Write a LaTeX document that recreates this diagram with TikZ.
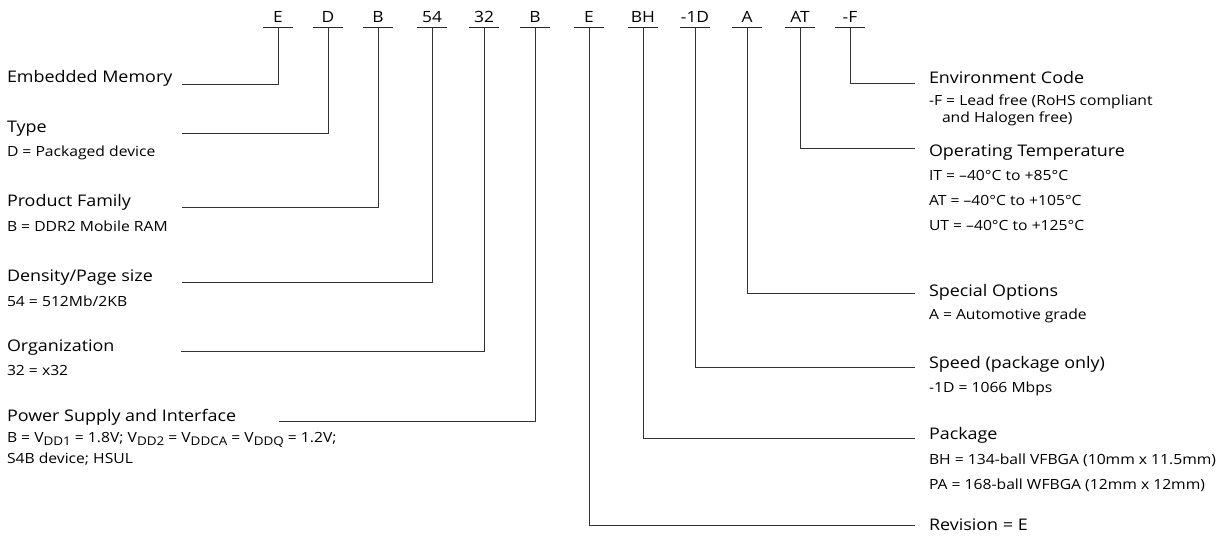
\documentclass[tikz,border=0pt]{standalone}
\usepackage{fontspec}
\setmainfont{Open Sans}[FakeStretch=1.12]
\begin{document}
\begin{tikzpicture}[x=1pt,y=-1pt,
  every node/.style={inner sep=0pt,outer sep=0pt,text=black},
  code/.style={anchor=base,font=\fontsize{15.5}{18}\selectfont},
  ttl/.style={anchor=base west,font=\fontsize{16}{19}\selectfont},
  sub/.style={anchor=base west,font=\fontsize{14}{16}\selectfont},
  conn/.style={draw=black!80,line width=0.85pt},
  tick/.style={draw=black!85,line width=0.85pt}]
\newcommand\lowsub[1]{\raisebox{-0.25em}{\fontsize{12}{12}\selectfont #1}}
\useasboundingbox (0,0) rectangle (1225,544);
% top code letters
\foreach \n/\x/\t in {c1/278/E,c2/328/D,c3/378/B,c4/432/54,c5/484/32,c6/535/B,c7/589/E,c8/643/BH,c9/695/-1D,c10/747/A,c11/800/AT,c12/850/-F}{
  \node[code] (\n) at (\x,22) {\t};
  \coordinate (t\n) at (\x,27);
  \draw[tick] ([xshift=-15pt]t\n) -- ([xshift=15pt]t\n);
}
% left texts
\node[ttl] (embT) at (7,82.5) {Embedded Memory};
\node[ttl] (typT) at (7,132.7) {Type};
\node[sub] (typS) at (7,156.7) {D = Packaged device};
\node[ttl] (famT) at (7,206.7) {Product Family};
\node[sub] (famS) at (7,231) {B = DDR2 Mobile RAM};
\node[ttl] (denT) at (7,281.5) {Density/Page size};
\node[sub] (denS) at (7,306) {54 = 512Mb/2KB};
\node[ttl] (orgT) at (7,351) {Organization};
\node[sub] (orgS) at (7,375.7) {32 = x32};
\node[ttl] (pwrT) at (7,421.5) {Power Supply and Interface};
\node[sub] (pwrS) at (7,442) {B = V\lowsub{DD1} = 1.8V; V\lowsub{DD2} = V\lowsub{DDCA} = V\lowsub{DDQ} = 1.2V;};
\node[sub] (pwrS2) at (7,463) {S4B device; HSUL};
% right texts
\node[ttl] (envT) at (929,83) {Environment Code};
\node[sub] (envS) at (929,105) {-F = Lead free (RoHS compliant};
\node[sub] (envS2) at (942,122) {and Halogen free)};
\node[ttl] (tmpT) at (929,156) {Operating Temperature};
\node[sub] (tmpS1) at (929,180) {IT = –40°C to +85°C};
\node[sub] (tmpS2) at (929,205.5) {AT = –40°C to +105°C};
\node[sub] (tmpS3) at (929,230.5) {UT = –40°C to +125°C};
\node[ttl] (spoT) at (929,296) {Special Options};
\node[sub] (spoS) at (929,319) {A = Automotive grade};
\node[ttl] (spdT) at (929,368.5) {Speed (package only)};
\node[sub] (spdS) at (929,392.3) {-1D = 1066 Mbps};
\node[ttl] (pkgT) at (929,439.5) {Package};
\node[sub] (pkgS1) at (929,464) {BH = 134-ball VFBGA (10mm x 11.5mm)};
\node[sub] (pkgS2) at (929,489) {PA = 168-ball WFBGA (12mm x 12mm)};
\node[ttl] (revT) at (929,530.5) {Revision = E};
% connector end points
\coordinate (e1) at (182,84);
\coordinate (e2) at (182,133);
\coordinate (e3) at (182,207);
\coordinate (e4) at (182,282);
\coordinate (e5) at (181,351);
\coordinate (e6) at (279,421);
\coordinate (e7) at (915,525);
\coordinate (e8) at (915,438);
\coordinate (e9) at (915,367);
\coordinate (e10) at (915,293);
\coordinate (e11) at (915,148);
\coordinate (e12) at (915,83);
\foreach \i in {1,...,12}{
  \draw[conn] (tc\i) |- (e\i);
}
\end{tikzpicture}
\end{document}
